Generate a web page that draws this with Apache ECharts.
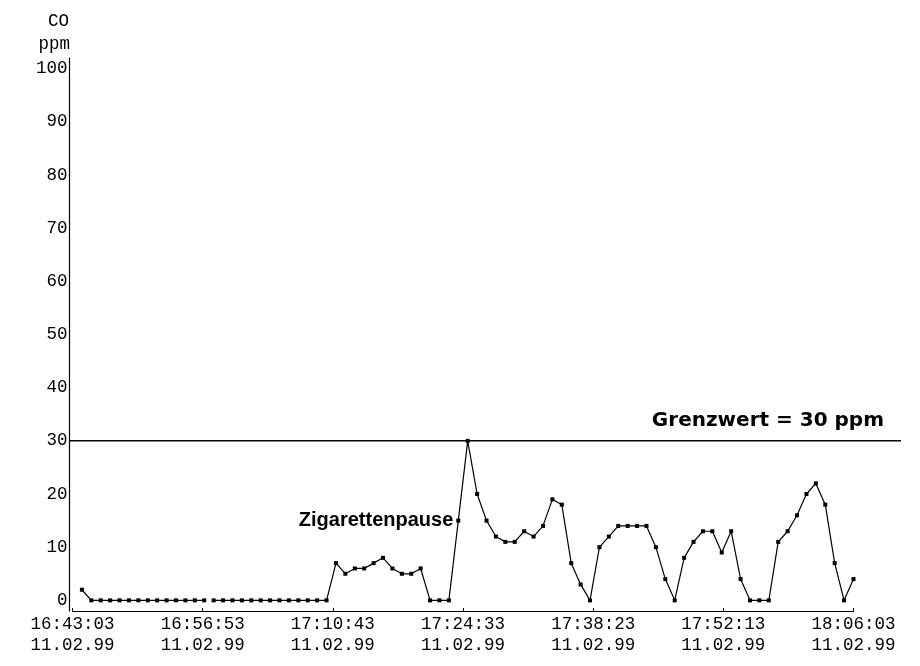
<!DOCTYPE html>
<html>
<head>
<meta charset="utf-8">
<script src="https://cdn.jsdelivr.net/npm/echarts@6/dist/echarts.min.js"></script>
<style>
html,body{margin:0;padding:0;background:#fff;}
#chart{width:920px;height:666px;}
</style>
</head>
<body>
<div id="chart"></div>
<script>
// minutes after 16:43:03 (14.5 marks the break in the recorded line)
const sampleMinutes = [1,2,3,4,5,6,7,8,9,10,11,12,13,14,14.5,15,16,17,18,19,20,21,22,23,24,25,26,27,
  28,29,30,31,32,33,34,35,36,37,38,39,40,41,42,43,44,45,46,47,48,49,50,51,52,53,54,55,
  56,57,58,59,60,61,62,63,64,65,66,67,68,69,70,71,72,73,74,75,76,77,78,79,80,81,82,83];
const coPpm = [2,0,0,0,0,0,0,0,0,0,0,0,0,0,null,0,0,0,0,0,0,0,0,0,0,0,0,0,
  7,5,6,6,7,8,6,5,5,6,0,0,0,15,30,20,15,12,11,11,13,12,14,19,18,7,3,0,
  10,12,14,14,14,14,10,4,0,8,11,13,13,9,13,4,0,0,0,11,13,16,20,22,18,7,0,4];
const xTickLabels = ['16:43:03\n11.02.99','16:56:53\n11.02.99','17:10:43\n11.02.99','17:24:33\n11.02.99',
  '17:38:23\n11.02.99','17:52:13\n11.02.99','18:06:03\n11.02.99'];
const yTickValues = [0,10,20,30,40,50,60,70,80,90,100];
const limitValue = 30;
const limitText = 'Grenzwert = 30 ppm';
const noteText = 'Zigarettenpause';
const noteMinute = 41;

const chart = echarts.init(document.getElementById('chart'), null, {renderer:'canvas'});
const mono = 'Liberation Mono';
const seriesData = sampleMinutes.map((m, i) => [m * 60, coPpm[i] === null ? '-' : coPpm[i]]);
const noteValue = coPpm[sampleMinutes.indexOf(noteMinute)];

chart.setOption({
  animation: false,
  backgroundColor: '#fff',
  grid: {left: 72.5, right: 66.5, top: 58, bottom: 55},
  xAxis: {
    type: 'value', min: 0, max: 4980, interval: 830,
    axisLine: {show: true, onZero: false, lineStyle: {color: '#000', width: 1.2}},
    axisTick: {show: true, inside: true, length: 3, lineStyle: {color: '#000'}},
    splitLine: {show: false},
    axisLabel: {
      color: '#000', fontFamily: mono, fontSize: 17.5, lineHeight: 21, margin: 3,
      formatter: v => xTickLabels[Math.round(v / 830)] || ''
    }
  },
  yAxis: {
    type: 'value', min: -2, max: 102, offset: 3,
    axisLine: {show: true, onZero: false, lineStyle: {color: '#000', width: 1.2}},
    axisTick: {show: false},
    splitLine: {show: false},
    axisLabel: {
      color: '#000', fontFamily: mono, fontSize: 17.5, margin: 2,
      customValues: yTickValues
    }
  },
  series: [{
    type: 'line',
    data: seriesData,
    connectNulls: false,
    showAllSymbol: true,
    symbol: 'rect',
    symbolSize: 4,
    itemStyle: {color: '#000'},
    lineStyle: {color: '#000', width: 1.2},
    markPoint: {
      symbol: 'circle', symbolSize: 0,
      itemStyle: {color: 'transparent'},
      data: [{
        coord: [noteMinute * 60, noteValue],
        label: {
          show: true, position: 'left', distance: 5, formatter: noteText,
          color: '#000', fontFamily: 'Liberation Sans', fontWeight: 'bold', fontSize: 20
        }
      }]
    }
  }]
});

const yLimit = chart.convertToPixel({yAxisIndex: 0}, limitValue);
chart.setOption({
  graphic: [
    {type: 'text', style: {text: 'CO', x: 69, y: 21, align: 'right', verticalAlign: 'middle',
      font: '17.5px "Liberation Mono"', fill: '#000'}},
    {type: 'text', style: {text: 'ppm', x: 70, y: 44, align: 'right', verticalAlign: 'middle',
      font: '17.5px "Liberation Mono"', fill: '#000'}},
    {type: 'line', shape: {x1: 69, y1: yLimit, x2: 901, y2: yLimit},
      style: {stroke: '#000', lineWidth: 1.5}},
    {type: 'text', style: {text: limitText, x: 884, y: yLimit - 20, align: 'right', verticalAlign: 'middle',
      font: 'bold 20px "DejaVu Sans"', fill: '#000'}}
  ]
});
</script>
</body>
</html>
